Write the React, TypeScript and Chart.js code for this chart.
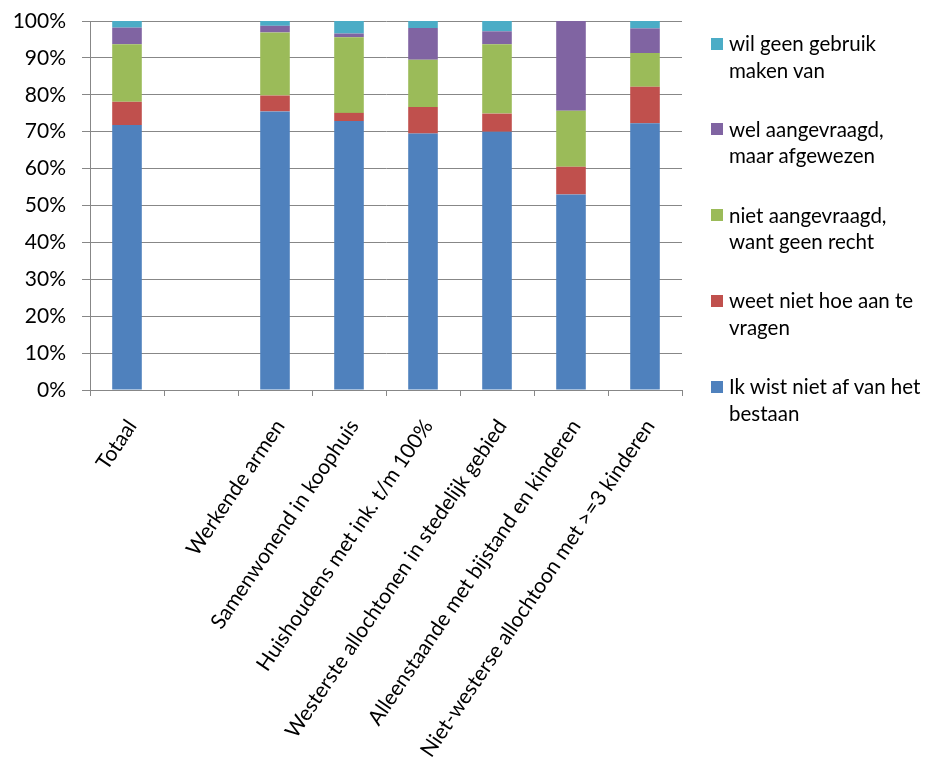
import React, { useEffect, useRef } from "react";
import { Chart, registerables } from "chart.js";

Chart.register(...registerables);

const categories = [
  "Totaal",
  "",
  "Werkende armen",
  "Samenwonend in koophuis",
  "Huishoudens met ink. t/m 100%",
  "Westerste allochtonen in stedelijk gebied",
  "Alleenstaande met bijstand en kinderen",
  "Niet-westerse allochtoon met >=3 kinderen",
];

const seriesNames = [
  "Ik wist niet af van het bestaan",
  "weet niet hoe aan te vragen",
  "niet aangevraagd, want geen recht",
  "wel aangevraagd, maar afgewezen",
  "wil geen gebruik maken van",
];

// legend lines as wrapped in the reference
const legendLines = [
  ["Ik wist niet af van het", "bestaan"],
  ["weet niet hoe aan te", "vragen"],
  ["niet aangevraagd,", "want geen recht"],
  ["wel aangevraagd,", "maar afgewezen"],
  ["wil geen gebruik", "maken van"],
];

const wistNiet = [71.8, null, 75.5, 72.9, 69.5, 70.0, 53.0, 72.3];
const weetNiet = [6.3, null, 4.3, 2.2, 7.2, 4.9, 7.5, 9.9];
const geenRecht = [15.6, null, 17.1, 20.5, 12.8, 18.8, 15.2, 9.1];
const afgewezen = [4.5, null, 1.8, 1.0, 8.6, 3.5, 24.3, 6.7];
const geenGebruik = [1.8, null, 1.3, 3.4, 1.9, 2.8, 0, 2.0];

const seriesColors = ["#4F81BD", "#C0504D", "#9BBB59", "#8064A2", "#4BACC6"];

const yMin = 0;
const yMax = 100;
const yStep = 10;

const FONT = "Lato, 'Open Sans', sans-serif";
const GRID = "#878787";

export default function App() {
  const canvasRef = useRef<HTMLCanvasElement | null>(null);

  useEffect(() => {
    const canvas = canvasRef.current;
    if (!canvas) return;
    const values = [wistNiet, weetNiet, geenRecht, afgewezen, geenGebruik];
    const chart = new Chart(canvas, {
      type: "bar",
      data: {
        labels: categories,
        datasets: values.map((v, i) => ({
          label: seriesNames[i],
          data: v,
          backgroundColor: seriesColors[i],
          borderWidth: 0,
          barPercentage: 0.4,
          categoryPercentage: 1,
        })),
      },
      options: {
        animation: false,
        responsive: false,
        maintainAspectRatio: false,
        layout: { padding: { top: 21, right: 245, left: 0, bottom: 0 } },
        plugins: {
          legend: { display: false },
          tooltip: { enabled: false },
        },
        scales: {
          x: {
            stacked: true,
            grid: {
              offset: true,
              drawOnChartArea: false,
              drawTicks: true,
              tickLength: 6,
              color: GRID,
              lineWidth: 1,
            },
            border: { color: GRID, width: 1 },
            ticks: {
              autoSkip: false,
              maxRotation: 56,
              minRotation: 56,
              padding: 19,
              labelOffset: 5,
              color: "#000",
              font: { family: FONT, size: 21 },
            },
            afterFit: (s: any) => {
              s.height = 371;
            },
          },
          y: {
            stacked: true,
            min: yMin,
            max: yMax,
            ticks: {
              stepSize: yStep,
              padding: 16,
              color: "#000",
              font: { family: FONT, size: 21 },
              callback: (v: any) => `${v}%`,
            },
            grid: { color: GRID, lineWidth: 1, tickLength: 8 },
            border: { color: GRID, width: 1 },
            afterFit: (s: any) => {
              s.width = 90;
              s.paddingTop = 0;
              s.paddingBottom = 0;
            },
          },
        },
      },
    });
    return () => chart.destroy();
  }, []);

  const order = [4, 3, 2, 1, 0];

  return (
    <div
      style={{
        position: "absolute",
        left: 0,
        top: 0,
        width: 927,
        height: 761,
        overflow: "hidden",
        background: "#fff",
      }}
    >
      <canvas
        ref={canvasRef}
        width={927}
        height={761}
        style={{ position: "absolute", left: 0, top: 0, width: 927, height: 761 }}
      />
      {order.map((si, k) => (
        <div
          key={si}
          style={{
            position: "absolute",
            left: 711,
            top: 30 + k * 85.8,
            display: "flex",
            alignItems: "flex-start",
            fontFamily: FONT,
            fontSize: 20.5,
            lineHeight: "26.5px",
            color: "#000",
            whiteSpace: "nowrap",
          }}
        >
          <div
            style={{
              width: 12,
              height: 12,
              marginTop: 7.5,
              background: seriesColors[si],
              flex: "none",
            }}
          />
          <div style={{ marginLeft: 6 }}>
            {legendLines[si].map((t, j) => (
              <div key={j}>{t}</div>
            ))}
          </div>
        </div>
      ))}
    </div>
  );
}
